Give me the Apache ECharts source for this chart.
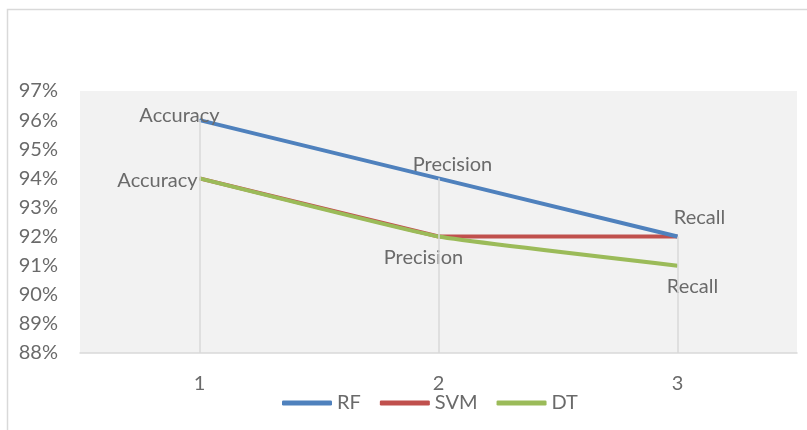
<!DOCTYPE html>
<html>
<head>
<meta charset="utf-8">
<script src="https://cdn.jsdelivr.net/npm/echarts@6/dist/echarts.min.js"></script>
<style>
  html, body { margin: 0; padding: 0; background: #fff; }
  #main { width: 807px; height: 430px; }
</style>
</head>
<body>
<div id="main"></div>
<script>
// categories on the x axis
var categories = ['1', '2', '3'];
// values in percent
var rf  = [96, 94, 92];
var svm = [94, 92, 92];
var dt  = [94, 92, 91];
// text shown next to the points
var pointLabels = ['Accuracy', 'Precision', 'Recall'];
var yMin = 88, yMax = 97, yStep = 1;

// where each label sits relative to its point (px)
var rfOffsets = [[-20, -5], [14, -14], [22, -19]];
var dtOffsets = [[-42, 2], [-15, 21], [15, 21]];

var font = 'Lato';
var txtColor = '#6a6a6a';

function labelled(values, offsets) {
    var out = [];
    for (var i = 0; i < values.length; i++) {
        out.push({
            value: values[i],
            label: {
                show: true,
                position: 'inside',
                offset: offsets[i],
                formatter: pointLabels[i]
            }
        });
    }
    return out;
}

var drops = [];
for (var i = 0; i < categories.length; i++) {
    drops.push([{coord: [i, rf[i]]}, {coord: [i, yMin]}]);
}

var chart = echarts.init(document.getElementById('main'));
var option = {
    animation: false,
    textStyle: {fontFamily: font},
    graphic: [{
        type: 'rect',
        shape: {x: 7.5, y: 9.5, width: 900, height: 500},
        style: {fill: 'none', stroke: '#d9d9d9', lineWidth: 1.5},
        silent: true
    }],
    grid: {
        left: 80, right: 10, top: 91, bottom: 77,
        show: true, backgroundColor: '#f2f2f2', borderWidth: 0
    },
    legend: {
        data: ['RF', 'SVM', 'DT'],
        left: 277, top: 388,
        icon: 'roundRect',
        itemWidth: 50, itemHeight: 5,
        itemGap: 19,
        textStyle: {fontFamily: font, fontSize: 20, color: txtColor}
    },
    xAxis: {
        type: 'category',
        data: categories,
        boundaryGap: true,
        axisLine: {lineStyle: {color: '#d9d9d9', width: 1.5}},
        axisTick: {show: false},
        axisLabel: {fontFamily: font, fontSize: 20, color: txtColor, margin: 21},
        splitLine: {show: false}
    },
    yAxis: {
        type: 'value',
        min: yMin, max: yMax, interval: yStep,
        axisLine: {show: false},
        axisTick: {show: false},
        splitLine: {show: false},
        axisLabel: {
            fontFamily: font, fontSize: 20, color: txtColor, margin: 22,
            formatter: function (v) { return v + '%'; }
        }
    },
    series: [
        {
            name: 'drops', type: 'line', data: rf, z: 1,
            symbol: 'none', lineStyle: {opacity: 0}, silent: true,
            markLine: {
                silent: true, symbol: 'none', label: {show: false},
                lineStyle: {color: '#d9d9d9', width: 1.5, type: 'solid'},
                data: drops
            }
        },
        {
            name: 'RF', type: 'line', z: 3,
            data: labelled(rf, rfOffsets),
            symbol: 'circle', symbolSize: 1,
            itemStyle: {color: '#4f81bd'},
            lineStyle: {color: '#4f81bd', width: 4},
            label: {fontFamily: font, fontSize: 20, color: txtColor}
        },
        {
            name: 'SVM', type: 'line', z: 2,
            data: svm,
            symbol: 'none',
            itemStyle: {color: '#c0504d'},
            lineStyle: {color: '#c0504d', width: 4}
        },
        {
            name: 'DT', type: 'line', z: 3,
            data: labelled(dt, dtOffsets),
            smooth: 0.1,
            symbol: 'circle', symbolSize: 1,
            itemStyle: {color: '#9bbb59'},
            lineStyle: {color: '#9bbb59', width: 4},
            label: {fontFamily: font, fontSize: 20, color: txtColor}
        }
    ]
};
chart.setOption(option);
</script>
</body>
</html>
